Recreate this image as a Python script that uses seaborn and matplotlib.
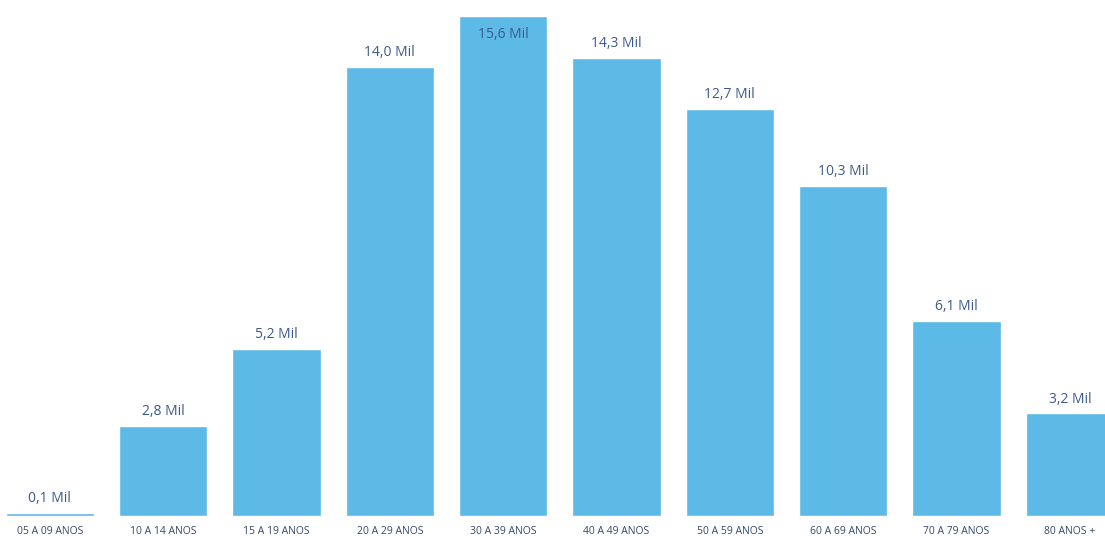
import matplotlib
matplotlib.use("Agg")
import matplotlib.pyplot as plt
import seaborn as sns
import pandas as pd

# faixas etarias e valores (em milhares)
faixas = ['05 A 09 ANOS', '10 A 14 ANOS', '15 A 19 ANOS', '20 A 29 ANOS',
          '30 A 39 ANOS', '40 A 49 ANOS', '50 A 59 ANOS', '60 A 69 ANOS',
          '70 A 79 ANOS', '80 ANOS +']
valores = [0.1, 2.8, 5.2, 14.0, 15.6, 14.3, 12.7, 10.3, 6.1, 3.2]

sns.set_style("white")
plt.rcParams['font.family'] = ['Open Sans', 'DejaVu Sans']

df = pd.DataFrame({'faixa': faixas, 'valor': valores})

fig = plt.figure(figsize=(11.05, 5.36), dpi=100)
ax = fig.add_axes([0, 0.0373, 1, 0.9627])

sns.barplot(data=df, x='faixa', y='valor', color='#5DB9E5', saturation=1,
            width=0.78, ax=ax)

ax.set_xlim(-0.44, 9.31)
ax.set_ylim(0, 16.1)
sns.despine(left=True, bottom=True)
ax.set_yticks([])
ax.set_xlabel('')
ax.set_ylabel('')
ax.tick_params(axis='x', length=0, pad=7, labelsize=7.5, labelcolor='#33486B')

# rotulos de dados
for i, v in enumerate(valores):
    txt = f"{v:.1f}".replace('.', ',') + ' Mil'
    if v > 15.2:
        ax.annotate(txt, (i, v), xytext=(0, -8), textcoords='offset points',
                    ha='center', va='top', fontsize=10, color='#3B5A8C')
    else:
        ax.annotate(txt, (i, v), xytext=(0, 5), textcoords='offset points',
                    ha='center', va='bottom', fontsize=10, color='#3B5A8C')

plt.savefig('out.png', dpi=100)
